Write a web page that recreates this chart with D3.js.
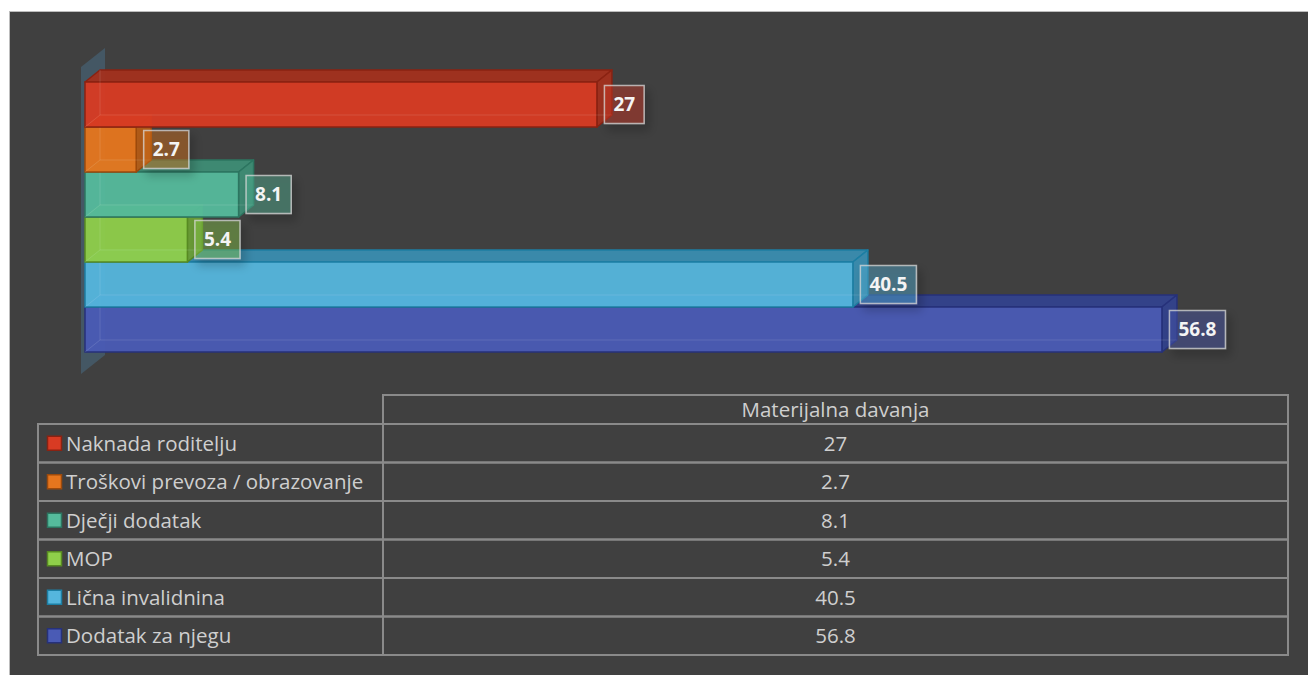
<!DOCTYPE html>
<html>
<head>
<meta charset="utf-8">
<script src="https://cdn.jsdelivr.net/npm/d3@7"></script>
<style>
  html, body { margin: 0; padding: 0; background: #ffffff; }
  svg { display: block; }
</style>
</head>
<body>
<svg id="viz" width="1308" height="675"></svg>
<script>
// chart data
const categories = ["Naknada roditelju", "Troškovi prevoza / obrazovanje", "Dječji dodatak", "MOP", "Lična invalidnina", "Dodatak za njegu"];
const values = [27, 2.7, 8.1, 5.4, 40.5, 56.8];
const seriesName = "Materijalna davanja";
const valueLabels = ["27", "2.7", "8.1", "5.4", "40.5", "56.8"];

// face colours per category: front, top/side, outline
const frontColors = ["#d83b23", "#e6761e", "#55bb9c", "#8fcf4a", "#55b6dd", "#4a5bb5"];
const topColors = ["#a3301e", "#b55c16", "#3e8d75", "#6c9f36", "#3a8db0", "#33428d"];
const edgeColors = ["#8a2212", "#9c4a0c", "#2c7560", "#578a22", "#1c7ea3", "#26317a"];

let padding = {top: 82, left: 85};
let depth = {dx: 15, dy: -12};

const svg = d3.select("#viz");
const W = 1308, H = 675;

// drop shadow used under the data labels
const defs = svg.append("defs");
const shadow = defs.append("filter").attr("id", "lblShadow")
    .attr("x", "-30%").attr("y", "-30%").attr("width", "180%").attr("height", "190%");
shadow.append("feDropShadow").attr("dx", 4).attr("dy", 6).attr("stdDeviation", 5)
    .attr("flood-color", "#000").attr("flood-opacity", 0.45);

// chart area background + frame
svg.append("rect")
    .attr("x", 9.5).attr("y", 11.5)
    .attr("width", W).attr("height", H)
    .attr("fill", "#404040")
    .attr("stroke", "#bdbdbd").attr("stroke-width", 1);

// scales
let xScale = d3.scaleLinear().domain([0, 60]).range([padding.left, padding.left + 60 * 18.96]);
let yScale = d3.scaleBand().domain(categories).range([padding.top, padding.top + 270]).padding(0);

const bw = yScale.bandwidth();
const x0 = xScale(0);

// back wall of the category axis
const wallTop = yScale.range()[0] - 15, wallBottom = yScale.range()[1] + 22;
svg.append("path")
    .attr("d", d3.line()([
        [x0 - 4, wallTop],
        [x0 - 4 + 24, wallTop - 19],
        [x0 - 4 + 24, wallBottom - 19],
        [x0 - 4, wallBottom]
    ]) + "Z")
    .attr("fill", "#4a7390").attr("fill-opacity", 0.45);

// bars, drawn bottom to top so upper bars overlap the top faces below
const plot = svg.append("g").attr("class", "bars");
const order = d3.range(categories.length).reverse();

order.forEach(i => {
    const c = categories[i];
    const y0 = yScale(c), y1 = y0 + bw;
    const xr = xScale(values[i]);
    const g = plot.append("g").attr("class", "bar");
    const dx = depth.dx, dy = depth.dy;

    // top face
    g.append("path")
        .attr("d", d3.line()([[x0, y0], [x0 + dx, y0 + dy], [xr + dx, y0 + dy], [xr, y0]]) + "Z")
        .attr("fill", topColors[i]).attr("fill-opacity", 0.95)
        .attr("stroke", edgeColors[i]).attr("stroke-width", 1.5).attr("stroke-linejoin", "round");

    // right side face
    g.append("path")
        .attr("d", d3.line()([[xr, y0], [xr + dx, y0 + dy], [xr + dx, y1 + dy], [xr, y1]]) + "Z")
        .attr("fill", topColors[i]).attr("fill-opacity", 0.95)
        .attr("stroke", edgeColors[i]).attr("stroke-width", 1.5).attr("stroke-linejoin", "round");

    // front face
    g.append("rect")
        .attr("x", x0).attr("y", y0)
        .attr("width", xr - x0).attr("height", bw)
        .attr("fill", frontColors[i]).attr("fill-opacity", 0.95)
        .attr("stroke", edgeColors[i]).attr("stroke-width", 1.5);

    // hidden back edges showing through the translucent box
    g.append("path")
        .attr("d", d3.line()([[x0 + dx, y0 + dy], [x0 + dx, y1 + dy], [xr + dx, y1 + dy]]))
        .attr("fill", "none")
        .attr("stroke", "#ffffff").attr("stroke-opacity", 0.12).attr("stroke-width", 1);
    g.append("line")
        .attr("x1", x0).attr("y1", y1).attr("x2", x0 + dx).attr("y2", y1 + dy)
        .attr("stroke", "#ffffff").attr("stroke-opacity", 0.12).attr("stroke-width", 1);
});

// data labels
const labels = svg.append("g").attr("class", "labels");
categories.forEach((c, i) => {
    const cy = yScale(c) + bw / 2;
    const lx = xScale(values[i]) + 7.5;
    const g = labels.append("g");
    const t = g.append("text")
        .attr("y", cy)
        .attr("dy", "0.36em")
        .attr("font-family", "'Open Sans', 'Noto Sans', sans-serif")
        .attr("font-weight", "bold")
        .attr("font-size", 19)
        .attr("fill", "#f4f4f4")
        .text(valueLabels[i]);
    const tw = t.node().getComputedTextLength();
    const bwid = tw + 18;
    t.attr("x", lx + bwid / 2).attr("text-anchor", "middle");
    g.insert("rect", "text")
        .attr("x", lx).attr("y", cy - 19)
        .attr("width", bwid).attr("height", 38)
        .attr("fill", frontColors[i]).attr("fill-opacity", 0.38)
        .attr("stroke", "#d8d8d8").attr("stroke-opacity", 0.75).attr("stroke-width", 1.5)
        .attr("filter", "url(#lblShadow)");
});

// data table below the chart
const table = {left: 38, mid: 383, right: 1288, headTop: 395, top: 424, bottom: 655};
let rowScale = d3.scaleBand().domain(categories).range([table.top, table.bottom]);
const tg = svg.append("g").attr("class", "table");
const lineColor = "#8a8a8a";
const fontFam = "'Open Sans', 'Noto Sans', sans-serif";
const fontSize = 20.5;
const textColor = "#cfcfcf";

// header cell
tg.append("rect")
    .attr("x", table.mid).attr("y", table.headTop)
    .attr("width", table.right - table.mid).attr("height", table.top - table.headTop)
    .attr("fill", "none").attr("stroke", lineColor).attr("stroke-width", 2);
tg.append("text")
    .attr("x", (table.mid + table.right) / 2).attr("y", (table.headTop + table.top) / 2)
    .attr("dy", "0.36em").attr("text-anchor", "middle")
    .attr("font-family", fontFam).attr("font-size", fontSize).attr("fill", textColor)
    .text(seriesName);

const rows = tg.selectAll("g.row").data(categories).enter()
    .append("g").attr("class", "row");

rows.append("rect")
    .attr("x", table.left).attr("y", d => rowScale(d))
    .attr("width", table.mid - table.left).attr("height", rowScale.bandwidth())
    .attr("fill", "none").attr("stroke", lineColor).attr("stroke-width", 2);
rows.append("rect")
    .attr("x", table.mid).attr("y", d => rowScale(d))
    .attr("width", table.right - table.mid).attr("height", rowScale.bandwidth())
    .attr("fill", "none").attr("stroke", lineColor).attr("stroke-width", 2);

// legend keys
rows.append("rect")
    .attr("x", 47.5).attr("y", d => rowScale(d) + rowScale.bandwidth() / 2 - 7)
    .attr("width", 14).attr("height", 14)
    .attr("fill", (d, i) => frontColors[i])
    .attr("stroke", (d, i) => edgeColors[i]).attr("stroke-width", 1.5);

rows.append("text")
    .attr("x", 66).attr("y", d => rowScale(d) + rowScale.bandwidth() / 2)
    .attr("dy", "0.36em")
    .attr("font-family", fontFam).attr("font-size", fontSize).attr("fill", textColor)
    .text(d => d);

rows.append("text")
    .attr("x", (table.mid + table.right) / 2).attr("y", d => rowScale(d) + rowScale.bandwidth() / 2)
    .attr("dy", "0.36em").attr("text-anchor", "middle")
    .attr("font-family", fontFam).attr("font-size", fontSize).attr("fill", textColor)
    .text((d, i) => valueLabels[i]);
</script>
</body>
</html>
